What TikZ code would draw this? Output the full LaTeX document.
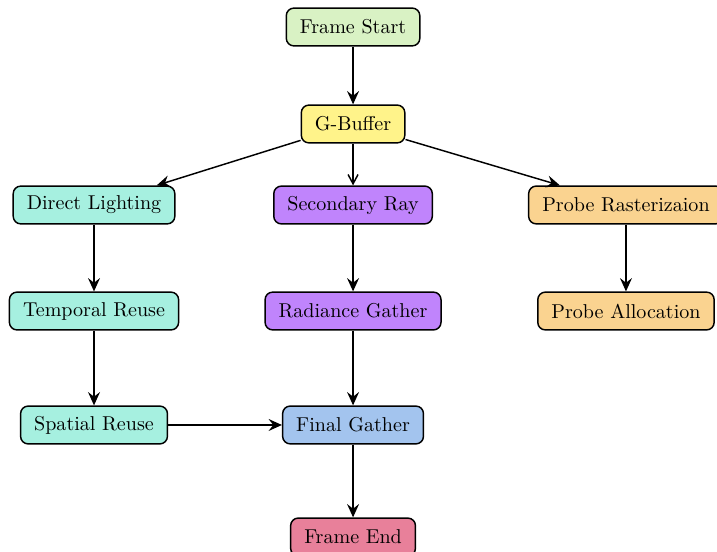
\documentclass[tikz,border=0pt]{standalone}
\usepackage{fontspec}
\setmainfont{lmroman10-regular.otf}
\usetikzlibrary{arrows.meta}
\definecolor{cstart}{RGB}{217,242,196}
\definecolor{cgbuf}{RGB}{255,243,138}
\definecolor{cteal}{RGB}{166,240,224}
\definecolor{cpurple}{RGB}{192,132,252}
\definecolor{corange}{RGB}{250,211,144}
\definecolor{cblue}{RGB}{163,196,238}
\definecolor{cpink}{RGB}{232,128,154}
\tikzset{
  box/.style={draw=black, line width=1.1pt, rounded corners=0.2cm, minimum height=1cm,
    inner xsep=0.36cm, font=\fontsize{15.1}{18}\selectfont},
  conn/.style={line width=1.1pt, -{Stealth[length=10pt,width=9pt,inset=3.5pt]}},
  openconn/.style={line width=1.1pt, -{Straight Barb[length=7pt,width=7.5pt]}}
}
\begin{document}
\begin{tikzpicture}
\useasboundingbox (0,0) rectangle (18.968,-14.603);
\node[box, fill=cstart] (start) at (9.34,-0.714) {Frame Start};
\node[box, fill=cgbuf] (gbuf) at (9.34,-3.28) {G-Buffer};
\node[box, fill=cteal] (direct) at (2.487,-5.423) {Direct Lighting};
\node[box, fill=cpurple] (sec) at (9.34,-5.423) {Secondary Ray};
\node[box, fill=corange] (probe) at (16.56,-5.423) {Probe Rasterizaion};
\node[box, fill=cteal] (temporal) at (2.487,-8.228) {Temporal Reuse};
\node[box, fill=cpurple] (radiance) at (9.34,-8.228) {Radiance Gather};
\node[box, fill=corange] (alloc) at (16.56,-8.228) {Probe Allocation};
\node[box, fill=cteal] (spatial) at (2.487,-11.243) {Spatial Reuse};
\node[box, fill=cblue] (final) at (9.34,-11.243) {Final Gather};
\node[box, fill=cpink] (fend) at (9.34,-14.206) {Frame End};
\draw[conn] (start) -- (gbuf);
\draw[conn] (gbuf) -- (direct);
\draw[openconn] (gbuf) -- (sec);
\draw[conn] (gbuf) -- (probe);
\draw[conn] (direct) -- (temporal);
\draw[conn] (temporal) -- (spatial);
\draw[conn] (sec) -- (radiance);
\draw[conn] (radiance) -- (final);
\draw[conn] (spatial) -- (final);
\draw[conn] (probe) -- (alloc);
\draw[conn] (final) -- (fend);
\end{tikzpicture}
\end{document}
